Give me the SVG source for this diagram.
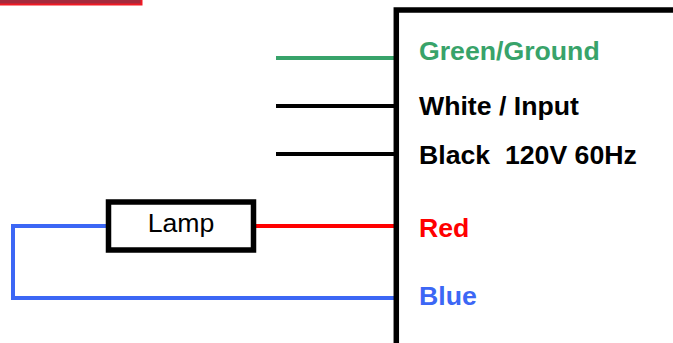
<svg xmlns="http://www.w3.org/2000/svg" width="673" height="343" viewBox="0 0 673 343">
<style>
text{font-family:"Liberation Sans",Arial,sans-serif}
.l{font-size:26.67px;font-weight:bold}
.w{fill:none;stroke-width:4}
.k{stroke:#000}.g{stroke:#38a36a}.r{stroke:#f00}.b{stroke:#3c67f5}
</style>
<rect x="0" y="0" width="142" height="5" fill="#a52a3c"/>
<path d="M0 4.500H141.500V0" fill="none" stroke="#f01a24" stroke-width="2"/>
<g id="connectors">
<path class="w g" d="M276 58H395"/>
<path class="w k" d="M276 106H395"/>
<path class="w k" d="M276 154H395"/>
<path class="w r" d="M255 226H395"/>
<path class="w b" d="M108 226H13V298H395"/>
</g>
<g id="driver">
<path d="M396.300 343V10H673" fill="none" stroke="#000" stroke-width="5.500"/>
<text class="l" x="419" y="60" fill="#38a36a">Green/Ground</text>
<text class="l" x="419" y="115" fill="#000" xml:space="preserve">White / Input</text>
<text class="l" x="419" y="164" fill="#000" xml:space="preserve">Black  120V 60Hz</text>
<text class="l" x="419" y="237" fill="#f00">Red</text>
<text class="l" x="419" y="305" fill="#3c67f5">Blue</text>
</g>
<g id="lamp">
<rect x="108.500" y="202" width="145" height="48" fill="#fff" stroke="#000" stroke-width="5.500"/>
<text x="181" y="232" font-size="26.670" text-anchor="middle" fill="#000">Lamp</text>
</g>
</svg>
